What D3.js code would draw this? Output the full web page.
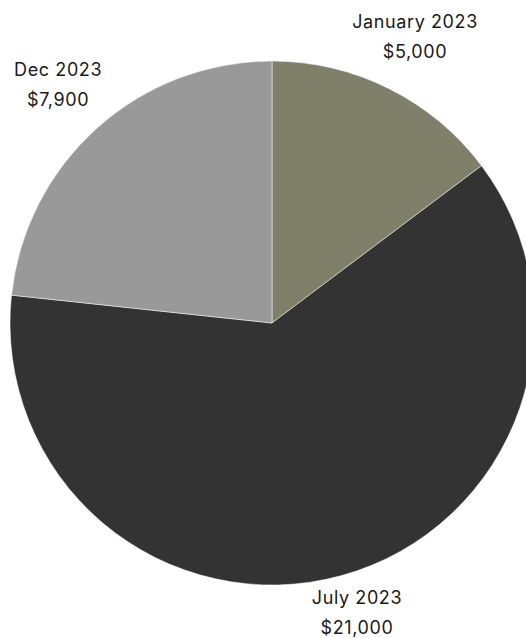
<!DOCTYPE html>
<html>
<head>
<meta charset="utf-8">
<script src="https://cdn.jsdelivr.net/npm/d3@7"></script>
<style>
  body { margin: 0; background: #fff; }
  svg { display: block; }
</style>
</head>
<body>
<div id="chart"></div>
<script>
let width = 526;
let height = 638;
let cx = 272;
let cy = 323;
let radius = 262;

let months = ["January 2023", "July 2023", "Dec 2023"];
let amounts = [5000, 21000, 7900];
let sliceColors = ["#80806a", "#333333", "#999999"];

let data = months.map((m, i) => ({ month: m, amount: amounts[i] }));

let viz = d3.select("#chart")
  .append("svg")
  .attr("width", width)
  .attr("height", height);

let pie = d3.pie().sort(null).value(d => d.amount);
let arc = d3.arc().innerRadius(0).outerRadius(radius);
let labelArc = d3.arc().innerRadius(320).outerRadius(320);

let g = viz.append("g").attr("transform", "translate(" + cx + "," + cy + ")");

let arcs = pie(data);

g.selectAll("path")
  .data(arcs)
  .enter()
  .append("path")
  .attr("d", arc)
  .attr("fill", (d, i) => sliceColors[i])
  .attr("stroke", "#ffffff")
  .attr("stroke-width", 0.5);

let fmt = d3.format("$,");

let labels = g.selectAll(".label")
  .data(arcs)
  .enter()
  .append("text")
  .attr("class", "label")
  .attr("text-anchor", "middle")
  .attr("font-family", "Inter, 'Noto Sans', sans-serif")
  .attr("font-size", 18)
  .attr("letter-spacing", 0.6)
  .attr("fill", "#1a1a1a")
  .attr("transform", function(d) {
    let c = labelArc.centroid(d);
    // keep the label block inside the picture
    let y = Math.min(c[1], height - cy - 25);
    return "translate(" + c[0] + "," + y + ")";
  });

labels.append("tspan")
  .attr("x", 0)
  .attr("y", -9)
  .text(d => d.data.month);

labels.append("tspan")
  .attr("x", 0)
  .attr("y", 21)
  .text(d => fmt(d.data.amount));
</script>
</body>
</html>
